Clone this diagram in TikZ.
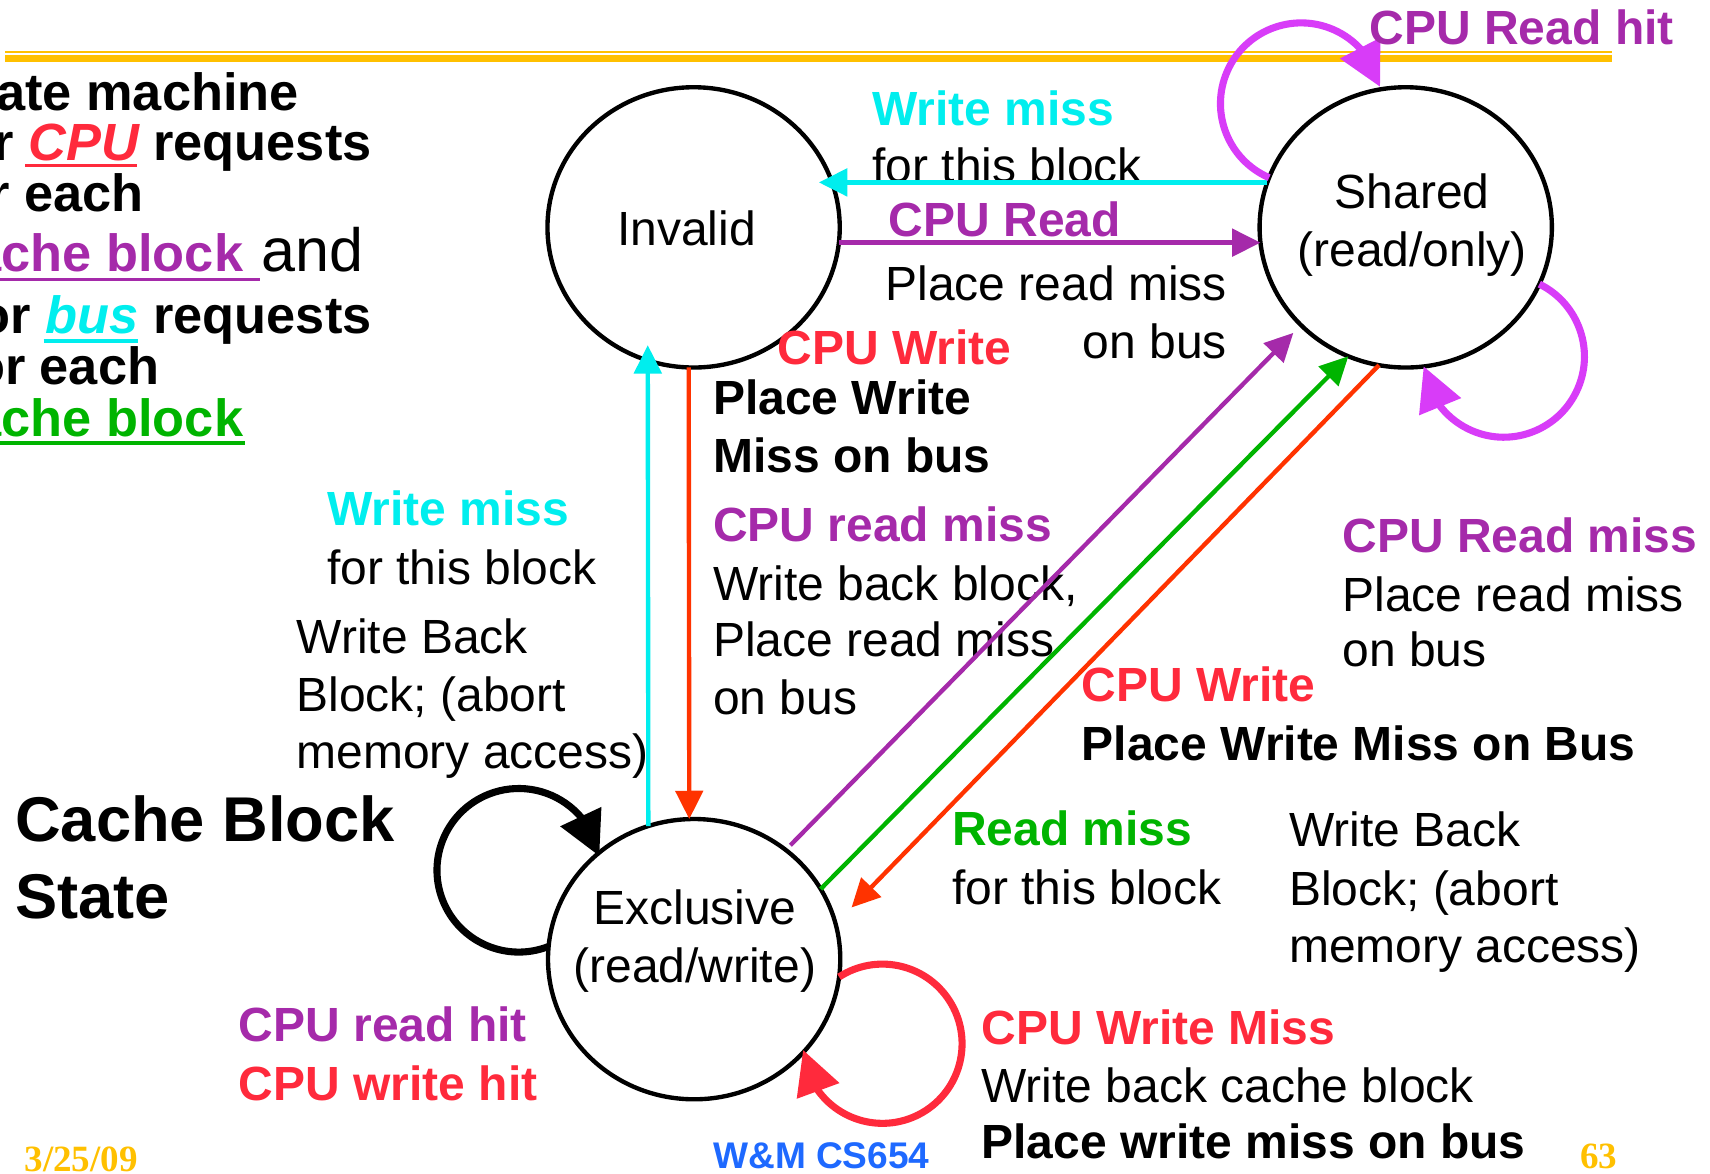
\documentclass[tikz,border=0pt]{standalone}
\usepackage{fontspec}
\setmainfont{Liberation Sans}
\newfontfamily\slideserif{Liberation Serif}
\usetikzlibrary{arrows.meta,shapes.geometric,bending}

\definecolor{cCyan}{RGB}{0,238,238}
\definecolor{cPurple}{RGB}{165,42,170}
\definecolor{cMagenta}{RGB}{216,60,248}
\definecolor{cRedText}{RGB}{255,42,60}
\definecolor{cRedLine}{RGB}{255,51,0}
\definecolor{cGreen}{RGB}{0,180,0}
\definecolor{cGold}{RGB}{255,192,0}
\definecolor{cBlue}{RGB}{30,105,255}

\newcommand\lblfont{\fontsize{44}{53}\selectfont}
\newcommand\hd[2]{\textcolor{#1}{\bfseries #2}}

% multi-line labels are placed by the baseline of their last line
\tikzset{
  lbl/.style={inner sep=0pt, outer sep=0pt, anchor=base west, align=left, font=\lblfont},
  panel/.style={inner sep=0pt, outer sep=0pt, font=\bfseries\fontsize{48}{52}\selectfont},
  statebox/.style={draw, ellipse, line width=4pt, minimum width=268pt, minimum height=257pt, inner sep=0pt, outer sep=0pt},
  link/.style={line width=4pt, -{Triangle[length=26pt,width=25pt]}},
  selfloop/.style={line width=6.5pt, -{Triangle[length=40pt,width=40pt,flex]}},
  uline/.style={line width=3pt},
  foot/.style={inner sep=0pt, outer sep=0pt, anchor=base west},
}

\begin{document}
\begin{tikzpicture}[x=1pt,y=-1pt]
\useasboundingbox (0,0) rectangle (1568,1076);
\clip (0,0) rectangle (1568,1076);
\fill[white] (0,0) rectangle (1568,1076);

% slide header rule
\draw[cGold, line width=1.5pt] (5,47.5) -- (1478,47.5);
\draw[cGold, line width=6pt] (5,53.5) -- (1478,53.5);

% left text panel (runs off the left edge)
\node[panel, anchor=base east] (pA) at (274,101) {State machine};
\node[panel, anchor=base west, font=\bfseries\itshape\fontsize{48}{52}\selectfont, text=cRedText] (pCPU) at (26,147) {CPU};
\node[panel, anchor=base east] (pB) at (pCPU.base west) {for\hbox{\ }};
\node[panel, anchor=base west] (pC) at (pCPU.base east) {\hbox{\ }requests};
\draw[uline, cRedText] ([xshift=-3pt,yshift=-4.6pt]pCPU.base west) -- ([xshift=-2pt,yshift=-4.6pt]pCPU.base east);
\node[panel, anchor=base east] (pD) at (132,194) {for each};
\node[panel, anchor=base east, text=cPurple] (pCB) at (223,249) {cache block};
\draw[uline, cPurple] ([yshift=-7.2pt]pCB.base west) -- ([xshift=15pt,yshift=-7.2pt]pCB.base east);
\node[inner sep=0pt, outer sep=0pt, anchor=base west, font=\fontsize{56}{60}\selectfont] (pAnd) at (240,249) {and};
\node[panel, anchor=base west, font=\bfseries\itshape\fontsize{48}{52}\selectfont, text=cCyan] (pBus) at (42,305.6) {bus};
\node[panel, anchor=base east] (pE) at (pBus.base west) {for\hbox{\ }};
\node[panel, anchor=base west] (pF) at (pBus.base east) {\hbox{\ }requests};
\draw[uline, cCyan] ([xshift=-2pt,yshift=-7.2pt]pBus.base west) -- ([xshift=-1pt,yshift=-7.2pt]pBus.base east);
\node[panel, anchor=base east] (pG) at (146,353) {for each};
\node[panel, anchor=base east, text=cGreen] (pCB2) at (223,400.4) {cache block};
\draw[uline, cGreen] ([yshift=-5.8pt]pCB2.base west) -- ([xshift=2pt,yshift=-5.8pt]pCB2.base east);

% states
\node[statebox] (inv) at (636,208.5) {};
\node[statebox] (sh) at (1289,208.5) {};
\node[statebox] (ex) at (636.5,879.5) {};
\node[lbl] (invT) at (566,225) {Invalid};
\node[lbl, anchor=base, align=center] (shT) at (1295,244.5) {Shared\\(read/only)};
\node[lbl, anchor=base, align=center] (exT) at (637,901) {Exclusive\\(read/write)};

% transition labels
\node[lbl] (tWM) at (800,167) {\hd{cCyan}{Write miss}\\[-1pt]for this block};
\node[lbl] (tCR) at (815,217) {\hd{cPurple}{CPU Read}};
\node[lbl, anchor=base east, align=right] (tPR) at (1125,329) {Place read miss\\on bus};
\node[lbl] (tCW) at (713,334) {\hd{cRedText}{CPU Write}};
\node[lbl, font=\bfseries\fontsize{44}{54}\selectfont] (tPW) at (654,433.7) {Place Write\\Miss on bus};
\node[lbl] (tWM2) at (300,536) {\hd{cCyan}{Write miss}\\[1pt]for this block};
\node[lbl] (tWB) at (272,705) {Write Back\\Block; (abort\\memory access)};
\node[lbl] (tCRM) at (654,655) {\hd{cPurple}{CPU read miss}\\[1.5pt]Write back block,\\[-2pt]Place read miss\\on bus};
\node[lbl] (tCRM2) at (1231,611.3) {\hd{cPurple}{CPU Read miss}\\[1pt]Place read miss\\[-2pt]on bus};
\node[lbl] (tCW2) at (992,697.4) {\hd{cRedText}{CPU Write}\\[1.5pt]\textbf{Place Write Miss on Bus}};
\node[lbl] (tRM) at (873,829.2) {\hd{cGreen}{Read miss}\\[1pt]for this block};
\node[lbl] (tWB2) at (1182,883) {Write Back\\[1pt]Block; (abort\\memory access)};
\node[lbl, font=\bfseries\fontsize{58}{70}\selectfont] (tCBS) at (14,842) {Cache Block\\State};
\node[lbl] (tHit) at (219,1009) {\hd{cPurple}{CPU read hit}\\[1pt]\hd{cRedText}{CPU write hit}};
\node[lbl] (tCWM) at (900,1062) {\hd{cRedText}{CPU Write Miss}\\[-0.5pt]Write back cache block\\[-1.5pt]\textbf{Place write miss on bus}};

% transitions between states
\draw[link, cCyan, shorten >=-12pt] (sh.162) -- (inv.18);
\draw[link, cPurple] (inv.-6) -- (sh.186);
\draw[link, cCyan, shorten >=-14pt] (ex.109) -- (inv.251);
\draw[link, cRedLine] (inv.268) -- (ex.92);
\draw[link, cPurple, shorten <=6pt, shorten >=10pt] (ex.50) -- (sh.223);
\draw[link, cGreen] (ex.29) -- (sh.246);
\draw[link, cRedLine, shorten >=21pt] (sh.259) -- (ex.14);

% self transitions
\draw[selfloop, black] (ex.175) arc[start angle=68.6, end angle=350, radius=75];
\draw[selfloop, cMagenta] (sh.160) arc[start angle=113.4, end angle=348, radius=74];
\draw[selfloop, cMagenta] (sh.-23) arc[start angle=-63.8, end angle=173, radius=74];
\draw[selfloop, cRedText] (ex.-7) arc[start angle=237, end angle=535.5, radius=73];

\node[lbl] (tRH) at (1256,41) {\hd{cPurple}{CPU Read hit}};

% slide footer
\node[foot, font=\slideserif\bfseries\fontsize{34}{36}\selectfont, text=cGold] (date) at (22.5,1074) {3/25/09};
\node[foot, font=\bfseries\fontsize{34}{36}\selectfont, text=cBlue] (course) at (654,1071) {W\&M CS654};
\node[foot, font=\slideserif\bfseries\fontsize{34}{36}\selectfont, text=cGold] (page) at (1449,1071) {63};
\end{tikzpicture}
\end{document}
